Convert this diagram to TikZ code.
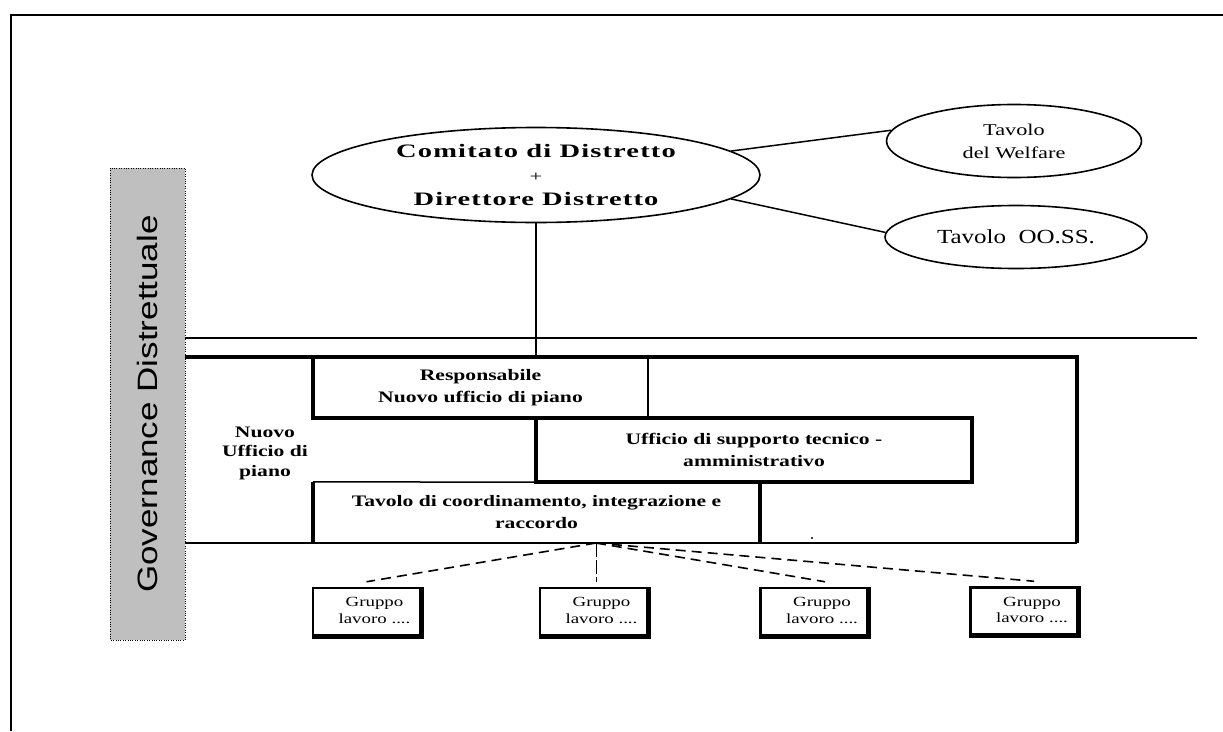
\documentclass[tikz,border=0pt]{standalone}
\usepackage{fontspec}
\setmainfont{Liberation Serif}
\setsansfont{Liberation Sans}
\newfontfamily\wideserif[FakeStretch=1.35]{Liberation Serif}
\newfontfamily\broadserif[FakeStretch=1.5,LetterSpace=6]{Liberation Serif}
\newfontfamily\ovalserif[FakeStretch=1.25]{Liberation Serif}
\newfontfamily\widesans[FakeStretch=1.25]{Liberation Sans}
\usetikzlibrary{shapes.geometric}
\tikzstyle{oval}=[draw,ellipse,line width=1.6pt,inner sep=0pt,align=center]
\tikzstyle{cell}=[inner sep=0pt,align=center,font=\wideserif\bfseries\fontsize{16}{22}\selectfont]
\tikzstyle{gruppo}=[draw,line width=2.5pt,minimum width=107pt,minimum height=47pt,inner sep=0pt,font=\wideserif\fontsize{14}{16.5}\selectfont]
\tikzstyle{rule}=[line width=1.5pt]
\tikzstyle{heavy}=[line width=4pt]
\tikzstyle{link}=[draw,dash pattern=on 10pt off 6pt,line width=1.6pt]

\begin{document}
\begin{tikzpicture}[x=1pt,y=-1pt]
\useasboundingbox (0,0) rectangle (1223,731);
% frame
\draw[rule] (11,731) -- (11,15) -- (1223,15);

\node[rotate=90,draw,dotted,fill=black!25,minimum width=472pt,minimum height=75pt,inner sep=0pt,
  font=\widesans\fontsize{28}{28}\selectfont] (gov) at (147.5,404) {Governance Distrettuale};

\node[oval,minimum width=448pt,minimum height=95pt,font=\broadserif\bfseries\fontsize{19}{24}\selectfont] (comitato) at (536,175)
  {Comitato di Distretto\\{\mdseries\fontsize{15}{24}\selectfont +}\\Direttore Distretto};
\node[oval,minimum width=255pt,minimum height=73pt,font=\wideserif\fontsize{16.5}{23}\selectfont] (welfare) at (1014,141) {Tavolo\\del Welfare};
\node[oval,minimum width=262pt,minimum height=63pt,font=\ovalserif\fontsize{20}{24}\selectfont] (ooss) at (1016,237) {Tavolo\ \ OO.SS.};
\draw[rule] (comitato.7) -- (welfare.175);
\draw[rule] (comitato.-7) -- (ooss.178);

% ufficio di piano
\coordinate (bigNW) at (185,357);
\coordinate (bigNE) at (1077,357);
\coordinate (bigSE) at (1077,543);
\coordinate (bigSW) at (185,543);
\draw[rule] (185,338) -- (1197,338);
\draw[rule] (comitato.south) -- (comitato.south |- bigNW);
\draw[heavy] (bigNW) -- (bigNE) -- (bigSE);
\draw[rule] (bigSE) -- (bigSW);

\node[cell,minimum width=335pt,minimum height=60pt] (resp) at (480.5,388) {Responsabile\\Nuovo ufficio di piano};
\node[cell,minimum width=436pt,minimum height=64pt] (supp) at (754,450) {Ufficio di supporto tecnico -\\amministrativo};
\node[cell,minimum width=447pt,minimum height=61pt] (coord) at (536.5,512.5) {Tavolo di coordinamento, integrazione e\\raccordo};
\node[cell,font=\wideserif\bfseries\fontsize{16}{19.5}\selectfont] (nup) at (265,453) {Nuovo\\Ufficio di\\piano};

\draw[heavy] (resp.north west) -- (resp.south west) -- (resp.south east);
\draw[line width=2.5pt] (resp.north east) -- (resp.south east);
\draw[heavy] (supp.north west) rectangle (supp.south east);
\draw[rule] (coord.north west) -- (supp.south west);
\draw[heavy] (coord.south west) -- (coord.north west);
\draw[heavy] (coord.north east) -- (coord.south east);
\fill (812,538) circle (1.2pt);

% gruppi di lavoro
\node[gruppo] (g1) at (366.5,611.5) {\hspace*{16pt}\begin{tabular}{@{}c@{}}Gruppo\\lavoro ....\end{tabular}};
\node[gruppo] (g2) at (593.5,611.5) {\hspace*{16pt}\begin{tabular}{@{}c@{}}Gruppo\\lavoro ....\end{tabular}};
\node[gruppo] (g3) at (814,611.5) {\hspace*{16pt}\begin{tabular}{@{}c@{}}Gruppo\\lavoro ....\end{tabular}};
\node[gruppo] (g4) at (1024,611) {\hspace*{16pt}\begin{tabular}{@{}c@{}}Gruppo\\lavoro ....\end{tabular}};
\foreach \g in {g1,g2,g3,g4}
  \draw[line width=4.5pt] (\g.north east) -- (\g.south east) -- (\g.south west);

\coordinate (hub) at (596,543);
\draw[link] (hub) -- ([yshift=5pt]g1.north);
\draw[link,line width=0.6pt,dash pattern=on 14pt off 3pt] (hub) -- ([yshift=5pt]hub |- g2.north);
\draw[link] (hub) -- ([xshift=11pt,yshift=5pt]g3.north);
\draw[link] (hub) -- ([xshift=10pt,yshift=5pt]g4.north);
\end{tikzpicture}
\end{document}
